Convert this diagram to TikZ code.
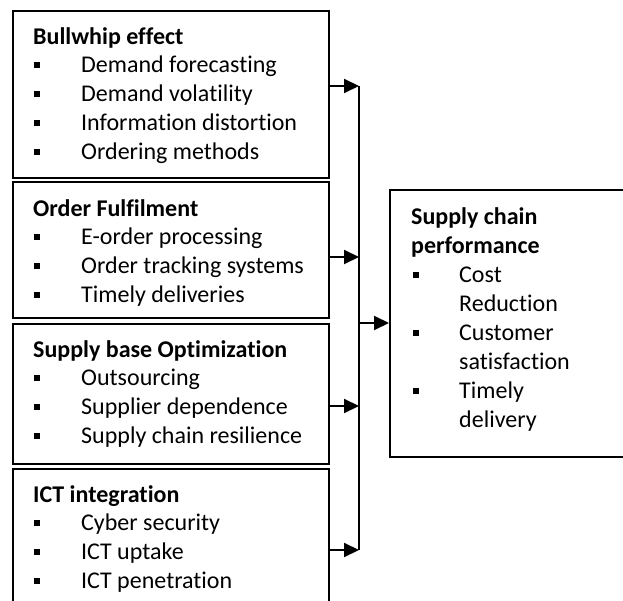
\documentclass[tikz,border=0pt]{standalone}
\usepackage{fontspec}
\setmainfont{Carlito}[Ligatures=NoCommon]
\usetikzlibrary{arrows.meta}
\tikzset{
  box/.style={draw, line width=1.6pt, rectangle, inner sep=0pt, anchor=north west},
  txt/.style={anchor=base west, inner sep=0pt, font=\fontsize{24}{29}\selectfont},
  ttl/.style={txt, font=\fontsize{24}{29}\selectfont\bfseries},
  bulsq/.style={fill=black, minimum size=6pt, inner sep=0pt, rectangle},
  arr/.style={line width=2pt, -{Triangle[length=15pt, width=14pt]}},
  vline/.style={line width=2pt},
}
\newcommand{\bitem}[5]{%
  \node[bulsq] (#1b) at (#2,#4) {};
  \node[txt] (#1) at (#3,#4+7.5) {#5};}
\begin{document}
\begin{tikzpicture}[x=1pt,y=-1pt]
\useasboundingbox (0,0) rectangle (623,601);
\begin{scope}
\clip (0,0) rectangle (623,601);
% left boxes
\node[box, minimum width=316pt, minimum height=167pt] (b1) at (12,10) {};
\node[box, minimum width=316pt, minimum height=136pt] (b2) at (12,181) {};
\node[box, minimum width=316pt, minimum height=140pt] (b3) at (12,323) {};
\node[box, minimum width=316pt, minimum height=150pt] (b4) at (12,468) {};
% right box
\node[box, minimum width=250pt, minimum height=267pt] (r) at (389,189) {};

% box 1
\node[ttl] (t1) at (33,45) {Bullwhip effect};
\bitem{a1}{37}{81}{65}{Demand forecasting}
\bitem{a2}{37}{81}{94}{Demand volatility}
\bitem{a3}{37}{81}{123}{Information distortion}
\bitem{a4}{37}{81}{152}{Ordering methods}
% box 2
\node[ttl] (t2) at (33,217) {Order Fulfilment};
\bitem{c1}{37}{81}{237}{E-order processing}
\bitem{c2}{37}{81}{266}{Order tracking systems}
\bitem{c3}{37}{81}{295}{Timely deliveries}
% box 3
\node[ttl] (t3) at (33,357) {Supply base Optimization};
\bitem{d1}{37}{81}{378}{Outsourcing}
\bitem{d2}{37}{81}{407}{Supplier dependence}
\bitem{d3}{37}{81}{436}{Supply chain resilience}
% box 4
\node[ttl] (t4) at (33,502) {ICT integration};
\bitem{e1}{37}{81}{523}{Cyber security}
\bitem{e2}{37}{81}{552}{ICT uptake}
\bitem{e3}{37}{81}{581}{ICT penetration}
% right box
\node[ttl] (t5a) at (411,225) {Supply chain};
\node[ttl] (t5b) at (411,254) {performance};
\bitem{f1}{416}{459}{275}{Cost}
\node[txt] (f1x) at (459,311.5) {Reduction};
\bitem{f2}{416}{459}{333}{Customer}
\node[txt] (f2x) at (459,369.5) {satisfaction};
\bitem{f3}{416}{459}{391}{Timely}
\node[txt] (f3x) at (459,427.5) {delivery};

% connectors
\coordinate (j1) at (359,86);
\coordinate (j2) at (359,257);
\coordinate (j3) at (359,406);
\coordinate (j4) at (359,550);
\coordinate (jr) at (359,323);
\draw[vline] (j1) -- (j4);
\draw[arr] (b1.east |- j1) -- (j1);
\draw[arr] (b2.east |- j2) -- (j2);
\draw[arr] (b3.east |- j3) -- (j3);
\draw[arr] (b4.east |- j4) -- (j4);
\draw[arr] (jr) -- (r.west |- jr);
\end{scope}
\end{tikzpicture}
\end{document}
